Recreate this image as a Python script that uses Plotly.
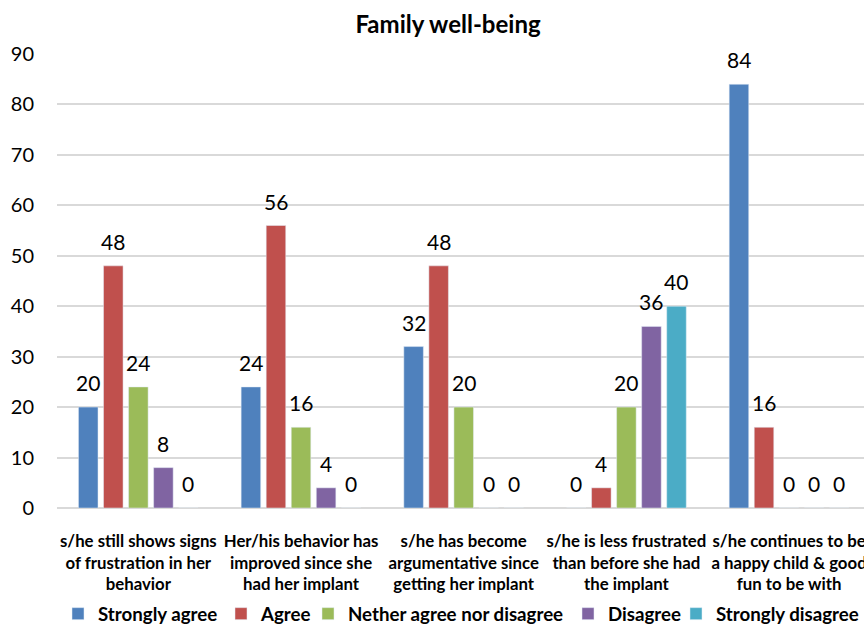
import plotly.graph_objects as go

# Survey statements (x categories) and response shares per answer
statements = [
    "s/he still shows signs<br>of frustration in her<br>behavior",
    "Her/his behavior has<br>improved since she<br>had her implant",
    "s/he has become<br>argumentative since<br>getting her implant",
    "s/he is less frustrated<br>than before she had<br>the implant",
    "s/he continues to be<br>a happy child & good<br>fun to be with",
]
series_names = ["Strongly agree", "Agree", "Nether agree nor disagree", "Disagree", "Strongly disagree"]
strongly_agree = [20, 24, 32, 0, 84]
agree = [48, 56, 48, 4, 16]
neither = [24, 16, 20, 20, 0]
disagree = [8, 4, 0, 36, 0]
strongly_disagree = [0, 0, 0, 40, 0]
y_ticks = [0, 10, 20, 30, 40, 50, 60, 70, 80, 90]

series_values = [strongly_agree, agree, neither, disagree, strongly_disagree]
colors = ["#4F81BD", "#C0504D", "#9BBB59", "#8064A2", "#4BACC6"]

FONT = "Lato"

W, H = 864, 624
left, top, bottom = 57.4, 53.5, 116
plot_w = W - left
cat_px = 162.6            # width of one category on the x axis
bargap = 0.23
n_series = len(series_values)
slot_px = (1 - bargap) * cat_px / n_series   # horizontal pitch of bars inside a group

# legend entries, one small legend per series, positioned along the bottom
legend_x_px = [58, 221, 308, 568, 676]
legend_ids = ["legend", "legend2", "legend3", "legend4", "legend5"]

fig = go.Figure()
for i, (name, vals, col) in enumerate(zip(series_names, series_values, colors)):
    fig.add_trace(go.Bar(
        name=name,
        x=statements,
        y=vals,
        marker=dict(color=col),
        legend=legend_ids[i],
    ))
    # value labels sitting above each bar
    for cat, v in zip(statements, vals):
        fig.add_annotation(
            x=cat, y=v, xref="x", yref="y",
            text=str(v),
            showarrow=False,
            xanchor="center", yanchor="middle",
            xshift=(i - (n_series - 1) / 2) * slot_px,
            yshift=24.5,
            font=dict(family=FONT, size=21, color="#000000"),
        )

legend_common = dict(
    orientation="h",
    xref="container",
    yref="container",
    xanchor="left",
    yanchor="middle",
    y=1 - 614 / H,
    font=dict(family=FONT, size=18.7, color="#000000", weight="bold"),
    itemwidth=30,
    bgcolor="rgba(0,0,0,0)",
)
legend_layout = {}
for lid, lx in zip(legend_ids, legend_x_px):
    legend_layout[lid] = dict(legend_common, x=lx / W)

fig.update_layout(
    width=W,
    height=H,
    margin=dict(l=left, r=0, t=top, b=bottom, pad=0),
    paper_bgcolor="white",
    plot_bgcolor="white",
    font=dict(family=FONT, color="#000000"),
    barmode="group",
    bargap=bargap,
    bargroupgap=0.22,
    title=dict(
        text="Family well-being",
        font=dict(family=FONT, size=24, color="#000000", weight="bold"),
        x=448 / W,
        xanchor="center",
        xref="container",
        y=1 - 25 / H,
        yanchor="middle",
        yref="container",
    ),
    showlegend=True,
    xaxis=dict(
        type="category",
        range=[-0.5, -0.5 + plot_w / cat_px],
        showgrid=False,
        showline=False,
        ticks="",
        tickangle=0,
        tickfont=dict(family=FONT, size=16.8, color="#000000", weight="bold"),
        ticklabelstandoff=21,
        automargin=False,
        fixedrange=True,
    ),
    yaxis=dict(
        range=[0, 90],
        tickvals=y_ticks,
        showgrid=True,
        gridcolor="#D9D9D9",
        gridwidth=1.5,
        zeroline=True,
        zerolinecolor="#D9D9D9",
        zerolinewidth=1.5,
        showline=False,
        ticks="",
        tickfont=dict(family=FONT, size=20, color="#000000"),
        ticklabelstandoff=22,
        automargin=False,
    ),
    **legend_layout,
)

fig.write_html("out.html")
